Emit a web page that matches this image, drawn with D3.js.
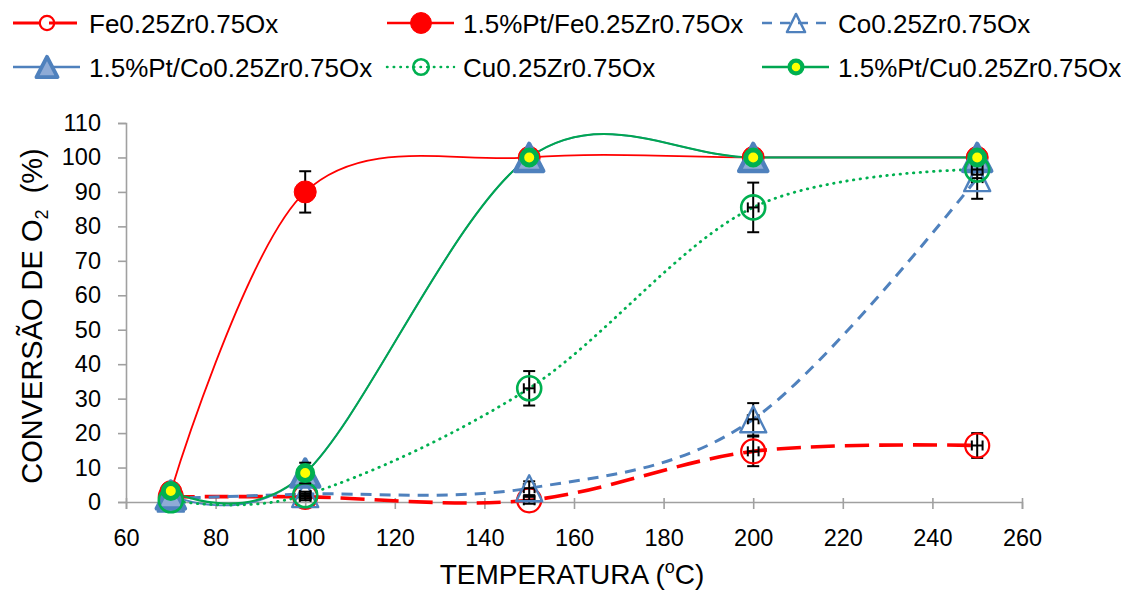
<!DOCTYPE html>
<html>
<head>
<meta charset="utf-8">
<script src="https://cdn.jsdelivr.net/npm/d3@7"></script>
<style>
  html, body { margin: 0; padding: 0; background: #fff; }
  svg { display: block; font-family: "Liberation Sans", Arial, sans-serif; }
</style>
</head>
<body>
<svg id="chart" width="1121" height="591"></svg>
<script>
// Temperatures (°C) at which conversion was measured
const temps = [70, 100, 150, 200, 250];

// O2 conversion (%) per catalyst
const feZr   = [1.5, 1.5, 0.5, 14.7, 16.4];
const ptFeZr = [3, 90, 100, 100, 100];
const coZr   = [1, 2.3, 4, 24, 94];
const ptCoZr = [2, 8.4, 100, 100, 100];
const cuZr   = [0.5, 2, 33, 85.5, 96.5];
const ptCuZr = [3.2, 8.4, 100, 100, 100];

// Standard deviations of conversion (%)
const feZrErr   = [0, 1, 1, 4.3, 3.6];
const ptFeZrErr = [0, 6, 0, 0, 0];
const coZrErr   = [0, 0, 2, 4.7, 6];
const ptCoZrErr = [0, 0, 0, 0, 0];
const cuZrErr   = [0, 1, 5, 7.2, 1.5];
const ptCuZrErr = [0, 3, 0, 0, 0];

// Standard deviations of temperature (°C)
const tempErr     = [0, 1.2, 1.2, 1.2, 1.2];
const tempErrCo   = [0, 0, 1.2, 1.2, 1.2];
const tempErrNone = [0, 0, 0, 0, 0];

const seriesNames = ["Fe0.25Zr0.75Ox", "1.5%Pt/Fe0.25Zr0.75Ox", "Co0.25Zr0.75Ox",
                     "1.5%Pt/Co0.25Zr0.75Ox", "Cu0.25Zr0.75Ox", "1.5%Pt/Cu0.25Zr0.75Ox"];

const xTicks = [60, 80, 100, 120, 140, 160, 180, 200, 220, 240, 260];
const yTicks = [0, 10, 20, 30, 40, 50, 60, 70, 80, 90, 100, 110];

const RED = "#ff0000", BLUE = "#4f81bd", GREEN = "#00b050", GREEN_LINE = "#00a651";

const series = [
  { name: seriesNames[0], values: feZr, err: feZrErr, xerr: tempErr,
    line: { color: RED, width: 3.6, dash: "24,10", cap: "butt" },
    legendDash: "28,8", marker: "openCircle", legendSize: 0.6 },
  { name: seriesNames[1], values: ptFeZr, err: ptFeZrErr, xerr: tempErrNone,
    line: { color: RED, width: 1.8, dash: null },
    marker: "filledCircle", legendSize: 0.95 },
  { name: seriesNames[2], values: coZr, err: coZrErr, xerr: tempErrCo,
    line: { color: BLUE, width: 3, dash: "11,8", cap: "butt" },
    legendDash: "10,8", marker: "openTriangle", legendSize: 0.7 },
  { name: seriesNames[3], values: ptCoZr, err: ptCoZrErr, xerr: tempErrNone,
    line: { color: BLUE, width: 1.8, dash: null },
    marker: "filledTriangle", legendSize: 0.75 },
  { name: seriesNames[4], values: cuZr, err: cuZrErr, xerr: tempErr,
    line: { color: GREEN, width: 2.8, dash: "0.5,6.2", cap: "round" },
    legendDash: "0.5,6.2", marker: "openCircleGreen", legendSize: 0.65 },
  { name: seriesNames[5], values: ptCuZr, err: ptCuZrErr, xerr: tempErrNone,
    line: { color: GREEN_LINE, width: 2, dash: null },
    marker: "ringYellow", legendSize: 0.85 }
];

const svg = d3.select("#chart");

const x = d3.scaleLinear().domain([60, 260]).range([126, 1022]);
const y = d3.scaleLinear().domain([0, 110]).range([502, 123]);

const AXIS = "#a0a0a0";

// ---- axes ----
const xAxis = svg.append("g")
  .attr("transform", `translate(0,${y(0)})`)
  .call(d3.axisBottom(x).tickValues(xTicks).tickFormat(d3.format("d")).tickSizeOuter(0).tickSize(7));
xAxis.select(".domain").attr("stroke", AXIS).attr("stroke-width", 1.6);
xAxis.selectAll(".tick line").attr("stroke", AXIS).attr("stroke-width", 1.6).attr("y1", -4);
xAxis.selectAll(".tick text")
  .attr("y", 44).attr("dy", 0)
  .attr("fill", "#000").style("font-size", "23.5px");

const yAxis = svg.append("g")
  .attr("transform", `translate(${x(60)},0)`)
  .call(d3.axisLeft(y).tickValues(yTicks).tickFormat(d3.format("d")).tickSizeOuter(0).tickSize(8).tickPadding(17));
yAxis.select(".domain").attr("stroke", AXIS).attr("stroke-width", 1.6);
yAxis.selectAll(".tick line").attr("stroke", AXIS).attr("stroke-width", 1.6);
yAxis.selectAll(".tick text").attr("fill", "#000").style("font-size", "23.5px");
svg.selectAll(".tick text").style("font-family", "'Liberation Sans', Arial, sans-serif");

// ---- axis titles ----
const xt = svg.append("text")
  .attr("x", 572).attr("y", 584)
  .attr("text-anchor", "middle")
  .style("font-size", "28px").attr("fill", "#000");
xt.append("tspan").text("TEMPERATURA (");
xt.append("tspan").attr("dy", -11).style("font-size", "18px").text("o");
xt.append("tspan").attr("dy", 11).text("C)");

const yt = svg.append("text")
  .attr("transform", "translate(42,316) rotate(-90)")
  .attr("text-anchor", "middle")
  .style("font-size", "29px").style("white-space", "pre").attr("fill", "#000");
yt.append("tspan").text("CONVERSÃO DE O");
yt.append("tspan").attr("dy", 6).style("font-size", "18px").text("2");
yt.append("tspan").attr("dy", -6).text("  (%)");

// ---- marker drawing ----
function triPath(w, h) {
  return `M0,${-h / 2}L${w / 2},${h / 2}L${-w / 2},${h / 2}Z`;
}

function drawMarker(g, kind, cx, cy, s) {
  // s: scale factor (1 in plot, smaller in legend)
  const m = g.append("g").attr("transform", `translate(${cx},${cy})`);
  switch (kind) {
    case "openCircle":
      m.append("circle").attr("r", 12 * s).attr("fill", "none")
        .attr("stroke", RED).attr("stroke-width", 2.2);
      break;
    case "filledCircle":
      m.append("circle").attr("r", 11 * s).attr("fill", RED)
        .attr("stroke", RED).attr("stroke-width", 1);
      break;
    case "openTriangle":
      m.append("path").attr("d", triPath(26 * s, 26 * s)).attr("fill", "none")
        .attr("stroke", BLUE).attr("stroke-width", 2.4).attr("stroke-linejoin", "round");
      break;
    case "filledTriangle":
      m.append("path").attr("d", triPath(28 * s, 27 * s)).attr("fill", "#8eabd6")
        .attr("stroke", BLUE).attr("stroke-width", 4.5 * Math.sqrt(s)).attr("stroke-linejoin", "round");
      break;
    case "openCircleGreen":
      m.append("circle").attr("r", 12 * s).attr("fill", "none")
        .attr("stroke", GREEN).attr("stroke-width", 2.6);
      break;
    case "ringYellow":
      m.append("circle").attr("r", 7.5 * s).attr("fill", "#ffff00")
        .attr("stroke", GREEN).attr("stroke-width", 5 * s);
      break;
  }
}

// ---- series lines (smoothed) ----
const lineGen = d3.line()
  .x(d => x(d[0]))
  .y(d => y(d[1]))
  .curve(d3.curveCardinal.tension(0));

const linesG = svg.append("g");
series.forEach(sr => {
  const pts = temps.map((t, i) => [t, sr.values[i]]);
  const p = linesG.append("path")
    .attr("d", lineGen(pts))
    .attr("fill", "none")
    .attr("stroke", sr.line.color)
    .attr("stroke-width", sr.line.width);
  if (sr.line.dash) p.attr("stroke-dasharray", sr.line.dash).attr("stroke-linecap", sr.line.cap);
});

// ---- error bars and markers ----
const marksG = svg.append("g");
series.forEach(sr => {
  const eg = marksG.append("g").attr("stroke", "#000").attr("stroke-width", 2).attr("fill", "none");
  temps.forEach((t, i) => {
    const v = sr.values[i], e = sr.err[i], xe = sr.xerr[i];
    const cx = x(t), cy = y(v);
    if (e > 0) {
      const y1 = y(v - e), y2 = y(v + e);
      eg.append("line").attr("x1", cx).attr("x2", cx).attr("y1", y1).attr("y2", y2);
      eg.append("line").attr("x1", cx - 6).attr("x2", cx + 6).attr("y1", y1).attr("y2", y1);
      eg.append("line").attr("x1", cx - 6).attr("x2", cx + 6).attr("y1", y2).attr("y2", y2);
    }
    if (xe > 0) {
      const x1 = x(t - xe), x2 = x(t + xe);
      eg.append("line").attr("x1", x1).attr("x2", x2).attr("y1", cy).attr("y2", cy);
      eg.append("line").attr("x1", x1).attr("x2", x1).attr("y1", cy - 5).attr("y2", cy + 5);
      eg.append("line").attr("x1", x2).attr("x2", x2).attr("y1", cy - 5).attr("y2", cy + 5);
    }
  });
  temps.forEach((t, i) => drawMarker(marksG, sr.marker, x(t), y(sr.values[i]), 1));
});

// ---- legend ----
const legendCols = [89, 463, 838];
const legendRows = [23, 67];
const legend = svg.append("g");
series.forEach((sr, i) => {
  const col = i % 3, row = Math.floor(i / 3);
  const tx = legendCols[col], ly = legendRows[row];
  const g = legend.append("g");
  const ln = g.append("line")
    .attr("x1", tx - 76).attr("x2", tx - 9)
    .attr("y1", ly).attr("y2", ly)
    .attr("stroke", sr.line.color)
    .attr("stroke-width", sr.line.dash ? sr.line.width * 0.9 : 2.4);
  if (sr.legendDash) ln.attr("stroke-dasharray", sr.legendDash).attr("stroke-linecap", sr.line.cap);
  drawMarker(g, sr.marker, tx - 42, ly, sr.legendSize);
  g.append("text")
    .attr("x", tx).attr("y", ly + 9.5)
    .style("font-size", "26px").attr("fill", "#000")
    .text(sr.name);
});
</script>
</body>
</html>
